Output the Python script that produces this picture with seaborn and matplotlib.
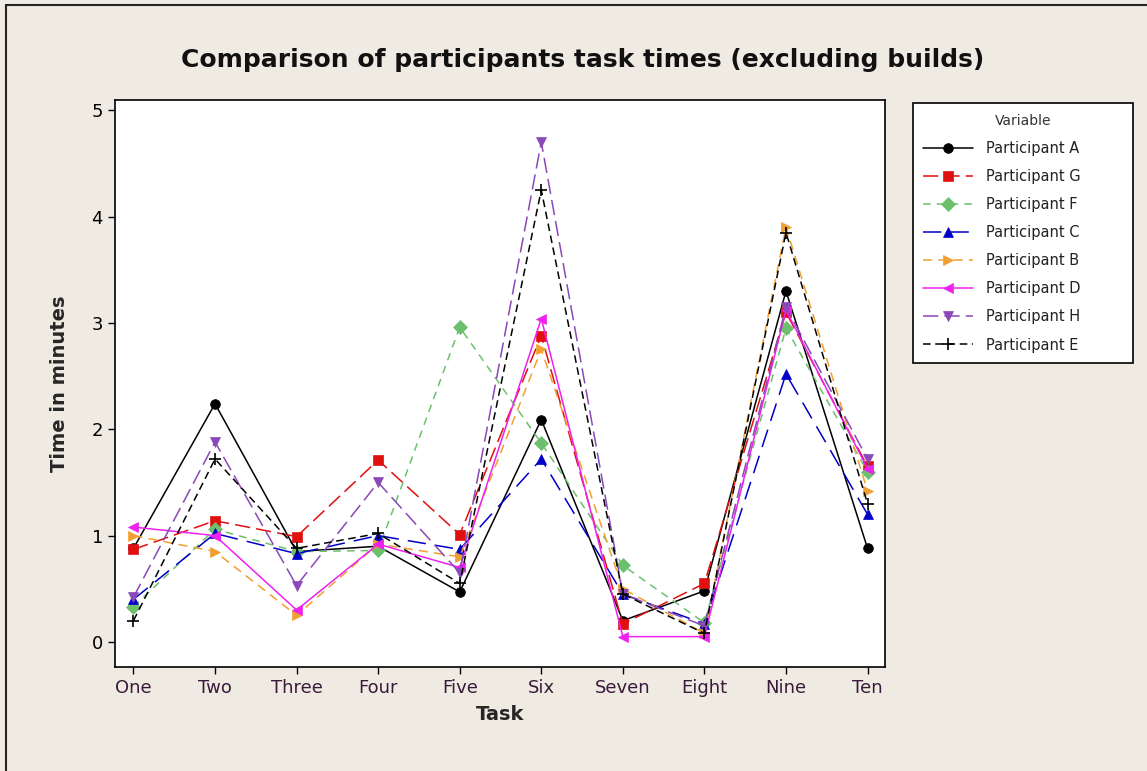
import numpy as np
import matplotlib.pyplot as plt
import seaborn as sns
import pandas as pd
from matplotlib.patches import Rectangle

# values
tasks = ["One", "Two", "Three", "Four", "Five", "Six", "Seven", "Eight", "Nine", "Ten"]
participant_a = [0.88, 2.24, 0.85, 0.90, 0.47, 2.09, 0.20, 0.48, 3.30, 0.88]
participant_g = [0.87, 1.14, 0.99, 1.71, 1.01, 2.88, 0.17, 0.55, 3.10, 1.65]
participant_f = [0.33, 1.06, 0.85, 0.86, 2.96, 1.87, 0.72, 0.18, 2.95, 1.60]
participant_c = [0.40, 1.02, 0.83, 1.00, 0.87, 1.72, 0.45, 0.17, 2.52, 1.20]
participant_b = [1.00, 0.85, 0.25, 0.92, 0.80, 2.75, 0.50, 0.08, 3.90, 1.42]
participant_d = [1.08, 1.00, 0.30, 0.92, 0.70, 3.04, 0.05, 0.05, 3.12, 1.63]
participant_h = [0.42, 1.88, 0.53, 1.50, 0.65, 4.70, 0.45, 0.15, 3.15, 1.72]
participant_e = [0.20, 1.72, 0.88, 1.02, 0.55, 4.25, 0.45, 0.08, 3.85, 1.30]

names = ["Participant A", "Participant G", "Participant F", "Participant C",
         "Participant B", "Participant D", "Participant H", "Participant E"]
series = [participant_a, participant_g, participant_f, participant_c,
          participant_b, participant_d, participant_h, participant_e]

colors = ["black", "#e01010", "#6cc06c", "#0000c8", "#f0a030", "#ee22ee", "#8a48b8", "black"]
markers = ["o", "s", "D", "^", ">", "<", "v", "+"]
dashes = [(None, None), (10, 4), (5, 4), (12, 6), (6, 4), (None, None), (10, 4), (5, 3)]

rows = []
for name, vals in zip(names, series):
    for i, v in enumerate(vals):
        rows.append({"Task": i, "Time": v, "Variable": name})
df = pd.DataFrame(rows)

sns.set_style("white")
bg = "#efebe3"
fig = plt.figure(figsize=(11.47, 7.71), dpi=100, facecolor=bg)
ax = fig.add_axes([0.100, 0.135, 0.672, 0.735])
ax.set_facecolor("white")

for name, col, mk, ds in zip(names, colors, markers, dashes):
    sub = df[df["Variable"] == name]
    sns.lineplot(data=sub, x="Task", y="Time", ax=ax, color=col, marker=mk,
                 markersize=7 if mk != "+" else 9, markeredgecolor=col,
                 markeredgewidth=1.2 if mk == "+" else 0.5,
                 linewidth=1.1, label=name)
    if ds[0] is not None:
        ax.lines[-1].set_dashes(ds)

ax.set_xlim(-0.23, 9.22)
ax.set_ylim(-0.235, 5.094)
ax.set_xticks(range(len(tasks)))
ax.set_xticklabels(tasks)
ax.set_yticks([0, 1, 2, 3, 4, 5])
ax.tick_params(axis="both", direction="out", length=5, width=1, labelsize=13,
               bottom=True, left=True, colors="black")
for lab in ax.get_xticklabels():
    lab.set_color("#3a1a3a")
for sp in ax.spines.values():
    sp.set_color("black")
    sp.set_linewidth(1.2)

ax.set_xlabel("Task", fontsize=14, fontweight="bold", labelpad=6)
ax.set_ylabel("Time in minutes", fontsize=14, fontweight="bold", labelpad=16)
fig.text(0.508, 0.922, "Comparison of participants task times (excluding builds)",
         ha="center", va="center", fontsize=18, fontweight="bold", color="#111111")

leg = ax.legend(title="Variable", loc="upper left",
                bbox_to_anchor=(0.796, 0.533, 0.192, 0.333),
                bbox_transform=fig.transFigure, mode="expand", frameon=True,
                fancybox=False, framealpha=1, facecolor="white",
                fontsize=10.5, title_fontsize=10, handlelength=3.4,
                labelspacing=0.9, borderpad=0.7, handletextpad=0.9,
                borderaxespad=0)
leg.get_frame().set_edgecolor("black")
leg.get_frame().set_linewidth(1.2)
for t in leg.get_texts():
    t.set_color("#222222")
leg.get_title().set_color("#333333")

# outer frame of the picture (only top and left edges show)
fig.patches.append(Rectangle((0.005, -0.1), 1.2, 1.093, transform=fig.transFigure,
                             fill=False, edgecolor="#222222", linewidth=1.5))

fig.savefig("out.png", dpi=100, facecolor=bg)
